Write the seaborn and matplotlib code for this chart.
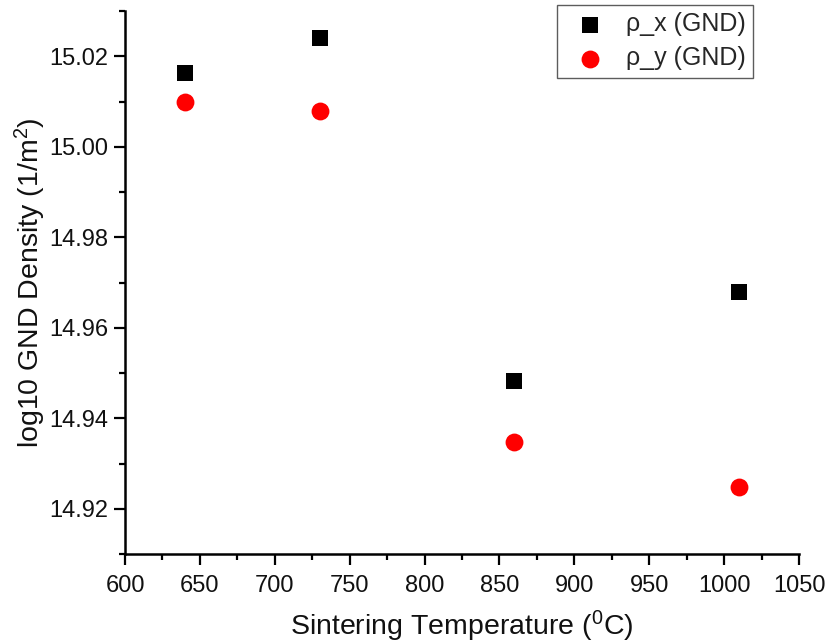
import matplotlib
matplotlib.use("Agg")
import matplotlib.pyplot as plt
import seaborn as sns
import pandas as pd

# Sintering temperatures (°C) and log10 GND densities per Burgers component
temperature = [640, 730, 860, 1010]
rho_x = [15.0162, 15.0241, 14.9482, 14.9679]
rho_y = [15.0100, 15.0080, 14.9347, 14.9247]
series_labels = ["ρ_x (GND)", "ρ_y (GND)"]
x_ticks = [600, 650, 700, 750, 800, 850, 900, 950, 1000, 1050]
y_ticks = [14.92, 14.94, 14.96, 14.98, 15.00, 15.02]

sns.set_style("ticks")
plt.rcParams["font.family"] = ["Liberation Sans", "DejaVu Sans"]
plt.rcParams["mathtext.fontset"] = "custom"
plt.rcParams["mathtext.rm"] = "Liberation Sans"
plt.rcParams["mathtext.it"] = "Liberation Sans"

df = pd.DataFrame({
    "T": temperature * 2,
    "rho": rho_x + rho_y,
    "series": [series_labels[0]] * 4 + [series_labels[1]] * 4,
})

fig = plt.figure(figsize=(8.25, 6.43), dpi=100)
ax = fig.add_axes([125 / 825, 1 - 554 / 643, (799 - 125) / 825, (554 - 11) / 643])

sns.scatterplot(data=df[df.series == series_labels[0]], x="T", y="rho",
                marker="s", color="black", s=135, linewidth=0,
                label=series_labels[0], ax=ax)
sns.scatterplot(data=df[df.series == series_labels[1]], x="T", y="rho",
                marker="o", color="#ff0000", s=165, linewidth=0,
                label=series_labels[1], ax=ax)

ax.set_xlim(600, 1050)
ax.set_ylim(14.91, 15.03)
ax.set_xticks(x_ticks)
ax.set_yticks(y_ticks)
ax.set_xticks([t + 25 for t in x_ticks[:-1]], minor=True)
ax.set_yticks([t + 0.01 for t in [14.90] + y_ticks], minor=True)
ax.set_yticklabels([f"{v:.2f}" for v in y_ticks])

for side in ["top", "right"]:
    ax.spines[side].set_visible(False)
for side in ["left", "bottom"]:
    ax.spines[side].set_linewidth(1.8)
    ax.spines[side].set_color("black")

ax.tick_params(axis="both", which="major", direction="out", length=8,
               width=1.6, labelsize=17, color="black", labelcolor="#111111")
ax.tick_params(axis="x", which="major", pad=7)
ax.tick_params(axis="y", which="major", pad=4)
ax.tick_params(axis="both", which="minor", direction="out", length=4.5,
               width=1.6, color="black")

ax.set_xlabel("Sintering Temperature ($^{0}$C)", fontsize=20.5, labelpad=8.5, color="#111111")
ax.set_ylabel("log10 GND Density (1/m$^{2}$)", fontsize=20.5, labelpad=1, color="#111111")

leg = ax.legend(loc="upper right", bbox_to_anchor=(753 / 825, 1 - 5 / 643),
                bbox_transform=fig.transFigure, fontsize=18, frameon=True,
                fancybox=False, borderpad=0.3, handletextpad=0.45,
                handlelength=2.0, borderaxespad=0, labelspacing=0.4,
                markerscale=1.0)
leg.get_frame().set_edgecolor("#333333")
leg.get_frame().set_linewidth(1.0)

fig.savefig("out.png", dpi=100)
